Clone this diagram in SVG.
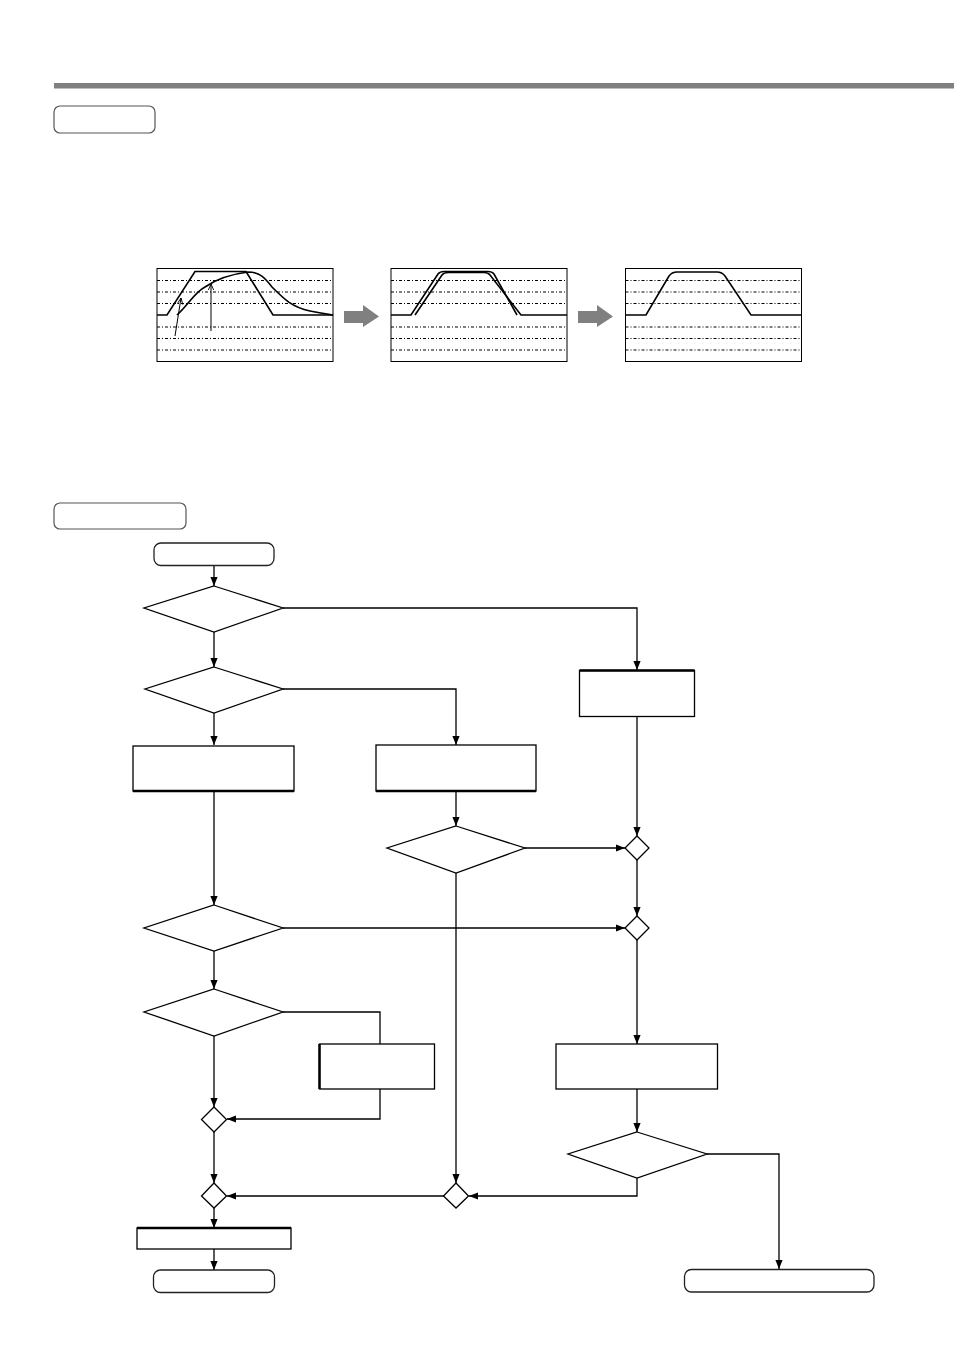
<svg xmlns="http://www.w3.org/2000/svg" width="954" height="1350" viewBox="0 0 954 1350">
<style>
.ln{fill:none;stroke:#000;stroke-width:1.3}
.arr{fill:none;stroke:#000;stroke-width:1.3;marker-end:url(#ah)}
.box{fill:#fff;stroke:#000;stroke-width:1.3}
.dia{fill:#fff;stroke:#000;stroke-width:1.3}
.term{fill:#fff;stroke:#222;stroke-width:1.3}
.lbl{fill:#fff;stroke:#555;stroke-width:1.2}
.grid{fill:none;stroke:#000;stroke-width:1;stroke-dasharray:3 2 1 2}
.frame{fill:#fff;stroke:#000;stroke-width:1}
.curve{fill:none;stroke:#000;stroke-width:1.6}
.thick{stroke:#000;stroke-width:2.5}
.garr{fill:#808080}
</style>
<defs>
<marker id="ah" viewBox="0 0 10 10" refX="10" refY="5" markerWidth="9" markerHeight="9" markerUnits="userSpaceOnUse" orient="auto">
<path d="M0,1 L10,5 L0,9 Z" fill="#000"/>
</marker>
<marker id="oa" viewBox="0 0 10 10" refX="9" refY="5" markerWidth="7" markerHeight="7" markerUnits="userSpaceOnUse" orient="auto">
<path d="M0,1 L9,5 L0,9" fill="none" stroke="#000" stroke-width="1.3"/>
</marker>
<g id="gridlines">
<line x1="0" y1="12" x2="176" y2="12"/>
<line x1="0" y1="23.5" x2="176" y2="23.5"/>
<line x1="0" y1="35" x2="176" y2="35"/>
<line x1="0" y1="58.5" x2="176" y2="58.5"/>
<line x1="0" y1="70" x2="176" y2="70"/>
<line x1="0" y1="81.5" x2="176" y2="81.5"/>
</g>
</defs>

<rect id="topbar" x="54" y="83" width="900" height="5.5" fill="#808080"/>
<rect id="label1" class="lbl" x="54" y="106" width="101" height="27" rx="6"/>
<rect id="label2" class="lbl" x="54" y="503" width="132" height="26" rx="6"/>

<g id="chart1">
<rect class="frame" x="157" y="268.5" width="176" height="93"/>
<g class="grid" transform="translate(157,268.5)"><use href="#gridlines"/></g>
<path class="curve" d="M157,315 L167,315 L195,271.5 L246,271.5 L273,315 L333,315"/>
<path class="curve" d="M177,315 C188,305 195,292 205,287 C218,278 232,274 248,272 C260,272 265,278 272,287 C285,300 292,307 310,311 C320,313 326,314 333,315"/>
<line class="ln" x1="175" y1="336" x2="181" y2="298" marker-end="url(#oa)" style="stroke-width:1"/>
<line class="ln" x1="211" y1="331" x2="211" y2="284" marker-end="url(#oa)" style="stroke-width:1"/>
</g>

<path id="garrow1" class="garr" d="M344,311 L363,311 L363,305 L379,316.5 L363,327 L363,323 L344,323 Z"/>

<g id="chart2">
<rect class="frame" x="391" y="268.5" width="176" height="93"/>
<g class="grid" transform="translate(391,268.5)"><use href="#gridlines"/></g>
<path class="curve" d="M391,315 L411,315 L438,274 Q440,271.5 444,271.5 L488,271.5 Q492,271.5 494,274 L517,315"/>
<path class="curve" d="M415,315 L442,275 Q444,272.5 448,272.5 L484,272.5 Q488,272.5 490,275 L521,315 L567,315"/>
</g>

<path id="garrow2" class="garr" d="M578,311 L597,311 L597,305 L613,316.5 L597,327 L597,323 L578,323 Z"/>

<g id="chart3">
<rect class="frame" x="625.5" y="268.5" width="176" height="93"/>
<g class="grid" transform="translate(625.5,268.5)"><use href="#gridlines"/></g>
<path class="curve" d="M625.5,315 L646,315 L669,276 Q672,272 677,272 L717,272 Q722,272 725,276 L751,315 L801.5,315"/>
</g>

<g id="connectors">
<line class="arr" x1="214" y1="566" x2="214" y2="586"/>
<polyline class="arr" points="283,608 637,608 637,670"/>
<line class="arr" x1="214" y1="632" x2="214" y2="667"/>
<polyline class="arr" points="283,689 456,689 456,745"/>
<line class="arr" x1="214" y1="713" x2="214" y2="745"/>
<line class="arr" x1="214" y1="791" x2="214" y2="905"/>
<line class="arr" x1="456" y1="791" x2="456" y2="826"/>
<line class="arr" x1="525" y1="848" x2="625" y2="848"/>
<line class="arr" x1="637" y1="716" x2="637" y2="836"/>
<line class="arr" x1="637" y1="860" x2="637" y2="916"/>
<line class="arr" x1="283" y1="928" x2="625" y2="928"/>
<line class="arr" x1="456" y1="873" x2="456" y2="1183"/>
<line class="arr" x1="214" y1="951" x2="214" y2="989"/>
<polyline class="ln" points="283,1012 380,1012 380,1044"/>
<line class="arr" x1="214" y1="1036" x2="214" y2="1107"/>
<polyline class="arr" points="380,1089 380,1119 227,1119"/>
<line class="arr" x1="214" y1="1132" x2="214" y2="1183"/>
<line class="arr" x1="444" y1="1196" x2="227" y2="1196"/>
<line class="arr" x1="214" y1="1208" x2="214" y2="1228"/>
<line class="arr" x1="214" y1="1249" x2="214" y2="1270"/>
<line class="arr" x1="637" y1="940" x2="637" y2="1044"/>
<line class="arr" x1="637" y1="1089" x2="637" y2="1132"/>
<polyline class="arr" points="637,1178 637,1196 469,1196"/>
<polyline class="arr" points="707,1154 779,1154 779,1269"/>
</g>

<g id="start"><rect class="term" x="154" y="543" width="120" height="22.5" rx="7"/></g>
<g id="dec1"><polygon class="dia" points="214,586 283,608 214,632 144,608"/></g>
<g id="dec2"><polygon class="dia" points="214,667 283,689 214,713 145,689"/></g>
<g id="procL1"><rect class="box" x="133" y="746" width="161" height="45"/><line class="thick" x1="133" y1="791" x2="294" y2="791"/></g>
<g id="procM1"><rect class="box" x="376" y="745" width="160" height="46"/><line class="thick" x1="376" y1="791" x2="536" y2="791"/></g>
<g id="procR1"><rect class="box" x="579.5" y="670.5" width="115" height="46"/><line class="thick" x1="579.5" y1="670.5" x2="694.5" y2="670.5"/></g>
<g id="decM"><polygon class="dia" points="456,826 525,848 456,873 387,848"/></g>
<g id="joinR1"><polygon class="dia" points="637,836 649,848 637,860 625,848"/></g>
<g id="joinR2"><polygon class="dia" points="637,916 649,928 637,940 625,928"/></g>
<g id="dec3"><polygon class="dia" points="214,905 283,928 214,951 144,928"/></g>
<g id="dec4"><polygon class="dia" points="214,989 283,1012 214,1036 144,1012"/></g>
<g id="procL2"><rect class="box" x="319.5" y="1044" width="115" height="45"/><line class="thick" x1="319.5" y1="1044" x2="319.5" y2="1089"/></g>
<g id="procR2"><rect class="box" x="556" y="1044" width="161.5" height="45"/></g>
<g id="decR"><polygon class="dia" points="637,1132 707,1154 637,1178 568,1154"/></g>
<g id="joinL1"><polygon class="dia" points="214,1107 226.5,1119.5 214,1132 201.5,1119.5"/></g>
<g id="joinL2"><polygon class="dia" points="214,1183 226.5,1196 214,1208 201.5,1196"/></g>
<g id="joinM2"><polygon class="dia" points="456,1183 468.5,1196 456,1208 443.5,1196"/></g>
<g id="procL3"><rect class="box" x="137" y="1228" width="154" height="21"/><line class="thick" x1="137" y1="1228" x2="291" y2="1228"/></g>
<g id="end"><rect class="term" x="153.5" y="1270" width="121" height="22.5" rx="7"/></g>
<g id="endR"><rect class="term" x="684.5" y="1269.5" width="189.5" height="22.5" rx="7"/></g>
</svg>
